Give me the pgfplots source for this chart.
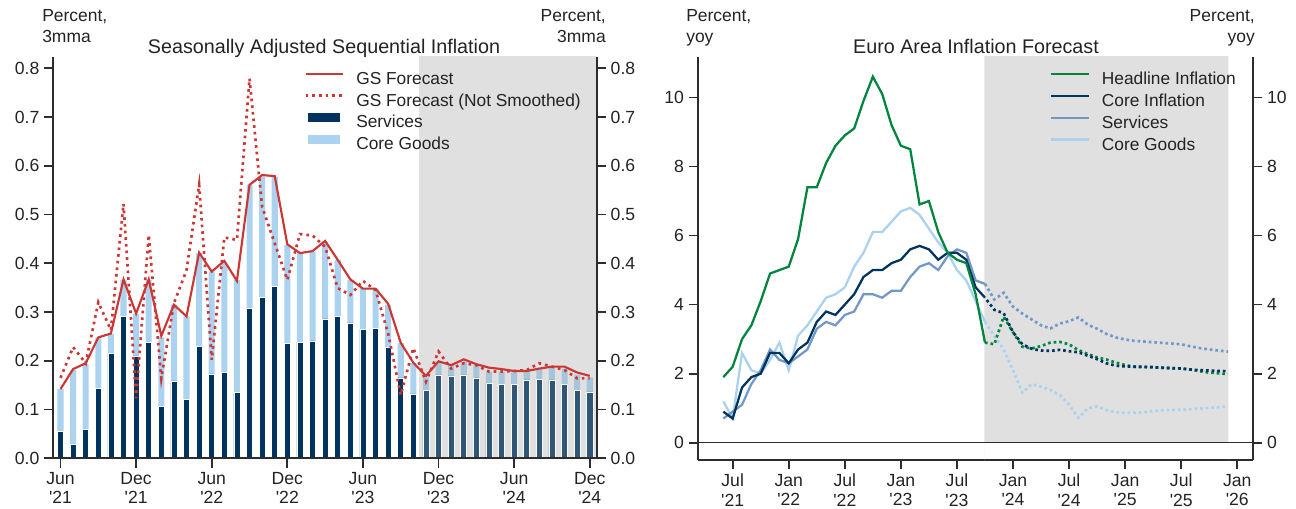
\documentclass[border=0pt]{standalone}
\usepackage{fontspec}
\setmainfont{Liberation Sans}
\usepackage{pgfplots}
\usepackage{pgfplotstable}
\pgfplotsset{compat=1.18}

\definecolor{navy}{RGB}{0,51,94}
\definecolor{lightbar}{RGB}{171,210,239}
\definecolor{navyfc}{RGB}{47,86,117}
\definecolor{lightfc}{RGB}{166,197,219}
\definecolor{shade}{RGB}{224,224,224}
\definecolor{gsred}{RGB}{203,55,52}
\definecolor{hgreen}{RGB}{0,133,62}
\definecolor{servblue}{RGB}{114,152,200}
\definecolor{goodsblue}{RGB}{170,210,240}
\definecolor{axisgray}{RGB}{45,45,45}
\definecolor{txt}{RGB}{35,35,35}

\pgfplotsset{
  mylinelegend/.style={legend image code/.code={\draw[##1] (0pt,4pt) -- (28pt,4pt);}},
  myarealegend/.style={legend image code/.code={\fill[##1, draw=none] (2pt,0.5pt) rectangle (26pt,7.5pt);}},
  gs/.style={
    scale only axis,
    axis line style={axisgray, line width=1.3pt},
    tick style={axisgray, line width=1.3pt},
    tick align=outside,
    major tick length=7pt,
    minor tick num=0,
    ticklabel style={font=\fontsize{13.2}{14.5}\selectfont, text=txt},
    xticklabel style={align=center},
    /pgf/number format/assume math mode=true,
    legend cell align=left,
  },
}

\pgfplotstableread{
i serv tot gs gsns
0 0.055 0.142 0.142 0.165
1 0.029 0.181 0.183 0.228
2 0.060 0.193 0.195 0.195
3 0.144 0.248 0.248 0.320
4 0.215 0.255 0.256 0.263
5 0.291 0.366 0.367 0.522
6 0.210 0.297 0.297 0.123
7 0.237 0.366 0.367 0.458
8 0.107 0.248 0.251 0.164
9 0.159 0.315 0.315 0.318
10 0.121 0.291 0.291 0.386
11 0.229 0.421 0.422 0.561
12 0.173 0.383 0.383 0.202
13 0.177 0.400 0.405 0.453
14 0.135 0.366 0.364 0.448
15 0.308 0.561 0.561 0.779
16 0.330 0.578 0.581 0.516
17 0.353 0.578 0.579 0.441
18 0.236 0.438 0.439 0.366
19 0.238 0.421 0.421 0.460
20 0.241 0.424 0.425 0.457
21 0.286 0.444 0.446 0.434
22 0.291 0.407 0.407 0.349
23 0.278 0.366 0.367 0.335
24 0.265 0.349 0.348 0.364
25 0.267 0.348 0.348 0.345
26 0.227 0.315 0.317 0.256
27 0.165 0.236 0.237 0.130
28 0.132 0.195 0.196 0.226
29 0.140 0.166 0.169 0.157
30 0.171 0.198 0.199 0.219
31 0.169 0.191 0.191 0.184
32 0.171 0.198 0.203 0.195
33 0.165 0.191 0.193 0.191
34 0.154 0.178 0.186 0.178
35 0.152 0.178 0.183 0.178
36 0.152 0.176 0.179 0.179
37 0.161 0.178 0.179 0.181
38 0.162 0.184 0.184 0.195
39 0.161 0.188 0.188 0.188
40 0.151 0.184 0.188 0.181
41 0.140 0.171 0.176 0.164
42 0.136 0.166 0.169 0.164
}\leftdata

% months since Jan 2021 (Jun21 = 5)
\pgfplotstableread{
m head core serv goods
5 1.9 0.9 0.7 1.2
6 2.2 0.7 0.9 0.7
7 3.0 1.6 1.1 2.6
8 3.4 1.9 1.7 2.1
9 4.1 2.0 2.1 2.0
10 4.9 2.6 2.7 2.4
11 5.0 2.6 2.4 2.9
12 5.1 2.3 2.3 2.1
13 5.9 2.7 2.5 3.1
14 7.4 2.9 2.7 3.4
15 7.4 3.5 3.3 3.8
16 8.1 3.8 3.5 4.2
17 8.6 3.7 3.4 4.3
18 8.9 4.0 3.7 4.5
19 9.1 4.3 3.8 5.1
20 9.9 4.8 4.3 5.5
21 10.6 5.0 4.3 6.1
22 10.1 5.0 4.2 6.1
23 9.2 5.2 4.4 6.4
24 8.6 5.3 4.4 6.7
25 8.5 5.6 4.8 6.8
26 6.9 5.7 5.1 6.6
27 7.0 5.6 5.2 6.2
28 6.1 5.3 5.0 5.8
29 5.5 5.5 5.4 5.5
30 5.3 5.5 5.6 5.0
31 5.2 5.3 5.5 4.7
32 4.3 4.5 4.7 4.1
33 2.9 4.2 4.6 3.5
}\eahist

\pgfplotstableread{
m head core serv goods
33 2.90 4.20 4.60 3.50
34 2.85 3.85 4.15 3.10
35 3.65 3.75 4.34 2.70
36 3.20 3.20 3.94 2.10
37 2.78 2.85 3.74 1.45
38 2.73 2.72 3.57 1.70
39 2.80 2.67 3.40 1.62
40 2.90 2.66 3.31 1.53
41 2.92 2.69 3.45 1.38
42 2.85 2.65 3.52 1.10
43 2.68 2.62 3.63 0.72
44 2.57 2.52 3.42 1.00
45 2.47 2.42 3.30 1.05
46 2.41 2.30 3.15 0.95
47 2.32 2.23 3.05 0.88
48 2.25 2.21 2.99 0.87
49 2.20 2.20 2.95 0.87
50 2.19 2.20 2.93 0.88
51 2.18 2.19 2.91 0.92
52 2.17 2.17 2.89 0.94
53 2.16 2.16 2.87 0.95
54 2.15 2.15 2.85 0.96
55 2.12 2.12 2.79 0.97
56 2.07 2.10 2.74 0.99
57 2.03 2.09 2.70 1.01
58 2.01 2.08 2.67 1.03
59 1.99 2.07 2.64 1.05
}\eafc

\begin{document}
\begin{tikzpicture}
\useasboundingbox (0,0) rectangle (972pt,381pt);

% ================= LEFT CHART =================
\begin{axis}[gs,
  at={(40pt,37.3pt)}, anchor=south west,
  width=407.5pt, height=301.2pt,
  xmin=-0.57, xmax=42.55, ymin=0, ymax=0.824,
  axis on top,
  axis x line*=bottom, axis y line*=left,
  xtick={0,6,12,18,24,30,36,42},
  xticklabels={Jun\\\textquotesingle21,Dec\\\textquotesingle21,Jun\\\textquotesingle22,Dec\\\textquotesingle22,Jun\\\textquotesingle23,Dec\\\textquotesingle23,Jun\\\textquotesingle24,Dec\\\textquotesingle24},
  ytick={0,0.1,0.2,0.3,0.4,0.5,0.6,0.7,0.8},
  yticklabel style={/pgf/number format/.cd, fixed, fixed zerofill, precision=1},
  legend style={at={(0.454,0.975)}, anchor=north west, draw=none, fill=none,
    font=\fontsize{13}{15}\selectfont, text=txt, row sep=1.4pt,
    /tikz/every odd column/.append style={column sep=7pt}},
]
\addplot[fill=shade, draw=none, forget plot] coordinates {(28.45,0) (28.45,0.9) (43,0.9) (43,0)} \closedcycle;
\addplot[ybar, bar width=0.48, bar shift=0pt, fill=lightbar, draw=none, forget plot, restrict x to domain=-1:28.5] table[x=i, y=tot] {\leftdata};
\addplot[ybar, bar width=0.48, bar shift=0pt, fill=navy, draw=white, line width=0.4pt, forget plot, restrict x to domain=-1:28.5] table[x=i, y=serv] {\leftdata};
\addplot[ybar, bar width=0.48, bar shift=0pt, fill=lightfc, draw=none, forget plot, restrict x to domain=28.5:43] table[x=i, y=tot] {\leftdata};
\addplot[ybar, bar width=0.48, bar shift=0pt, fill=navyfc, draw=white!85!shade, line width=0.4pt, forget plot, restrict x to domain=28.5:43] table[x=i, y=serv] {\leftdata};
\addplot[gsred, line width=2pt, dash pattern=on 2pt off 3pt, forget plot] table[x=i, y=gsns] {\leftdata};
\addplot[gsred, line width=1.6pt, forget plot] table[x=i, y=gs] {\leftdata};
\addlegendimage{mylinelegend, gsred, line width=1.6pt}
\addlegendentry{GS Forecast}
\addlegendimage{mylinelegend, gsred, line width=2pt, dash pattern=on 2pt off 3pt}
\addlegendentry{GS Forecast (Not Smoothed)}
\addlegendimage{myarealegend, fill=navy}
\addlegendentry{Services}
\addlegendimage{myarealegend, fill=lightbar}
\addlegendentry{Core Goods}
\end{axis}
% right y axis of left chart
\begin{axis}[gs,
  at={(40pt,37.3pt)}, anchor=south west,
  width=407.5pt, height=301.2pt,
  xmin=-0.57, xmax=42.55, ymin=0, ymax=0.824,
  axis x line=none, axis y line*=right,
  ytick={0,0.1,0.2,0.3,0.4,0.5,0.6,0.7,0.8},
  yticklabel style={/pgf/number format/.cd, fixed, fixed zerofill, precision=1},
]
\addplot[draw=none, forget plot] coordinates {(0,0)};
\end{axis}

% ================= RIGHT CHART =================
\begin{axis}[gs,
  at={(523.5pt,36pt)}, anchor=south west,
  width=416.25pt, height=302.5pt,
  xmin=2.29, xmax=61.68, ymin=-0.5, ymax=11.18,
  axis x line*=bottom, axis y line*=left,
  xtick={6,12,18,24,30,36,42,48,54,60},
  xticklabels={Jul\\\textquotesingle21,Jan\\\textquotesingle22,Jul\\\textquotesingle22,Jan\\\textquotesingle23,Jul\\\textquotesingle23,Jan\\\textquotesingle24,Jul\\\textquotesingle24,Jan\\\textquotesingle25,Jul\\\textquotesingle25,Jan\\\textquotesingle26},
  ytick={0,2,4,6,8,10},
  legend style={at={(0.627,0.975)}, anchor=north west, draw=none, fill=none,
    font=\fontsize{13}{15}\selectfont, text=txt, row sep=1.4pt,
    /tikz/every odd column/.append style={column sep=7pt}},
]
\addplot[fill=shade, draw=none, forget plot] coordinates {(32.93,-1) (32.93,12) (59.05,12) (59.05,-1)} \closedcycle;
\addplot[axisgray, line width=0.8pt, forget plot] coordinates {(0,0) (64,0)};
\addplot[goodsblue, line width=1.7pt, forget plot] table[x=m, y=goods] {\eahist};
\addplot[servblue, line width=1.7pt, forget plot] table[x=m, y=serv] {\eahist};
\addplot[navy, line width=1.7pt, forget plot] table[x=m, y=core] {\eahist};
\addplot[hgreen, line width=1.7pt, forget plot] table[x=m, y=head] {\eahist};
\addplot[goodsblue, line width=2pt, dash pattern=on 2pt off 2.2pt, forget plot] table[x=m, y=goods] {\eafc};
\addplot[servblue, line width=2pt, dash pattern=on 2pt off 2.2pt, forget plot] table[x=m, y=serv] {\eafc};
\addplot[hgreen, line width=2pt, dash pattern=on 2pt off 2.2pt, forget plot] table[x=m, y=head] {\eafc};
\addplot[navy, line width=2pt, dash pattern=on 2pt off 2.2pt, dash phase=2pt, forget plot] table[x=m, y=core] {\eafc};
\addlegendimage{mylinelegend, hgreen, line width=1.7pt}
\addlegendentry{Headline Inflation}
\addlegendimage{mylinelegend, navy, line width=1.7pt}
\addlegendentry{Core Inflation}
\addlegendimage{mylinelegend, servblue, line width=1.7pt}
\addlegendentry{Services}
\addlegendimage{mylinelegend, goodsblue, line width=1.7pt}
\addlegendentry{Core Goods}
\end{axis}
\begin{axis}[gs,
  at={(523.5pt,36pt)}, anchor=south west,
  width=416.25pt, height=302.5pt,
  xmin=2.29, xmax=61.68, ymin=-0.5, ymax=11.18,
  axis x line=none, axis y line*=right,
  ytick={0,2,4,6,8,10},
]
\addplot[draw=none, forget plot] coordinates {(10,0)};
\end{axis}

% ================= HEADERS =================
\begin{scope}[every node/.style={inner sep=0pt, text=txt, font=\fontsize{13.1}{15.75}\selectfont}]
\node[anchor=north west, align=left] at (31.5pt,374.25pt) {Percent,\\3mma};
\node[anchor=north east, align=right] at (454.5pt,374.25pt) {Percent,\\3mma};
\node[anchor=north west, align=left] at (514.5pt,374.25pt) {Percent,\\yoy};
\node[anchor=north east, align=right] at (941.25pt,374.25pt) {Percent,\\yoy};
\node[anchor=base, font=\fontsize{14.8}{17}\selectfont] at (243pt,340.9pt) {Seasonally Adjusted Sequential Inflation};
\node[anchor=base, font=\fontsize{14.8}{17}\selectfont] at (732pt,340.9pt) {Euro Area Inflation Forecast};
\end{scope}
\end{tikzpicture}
\end{document}
